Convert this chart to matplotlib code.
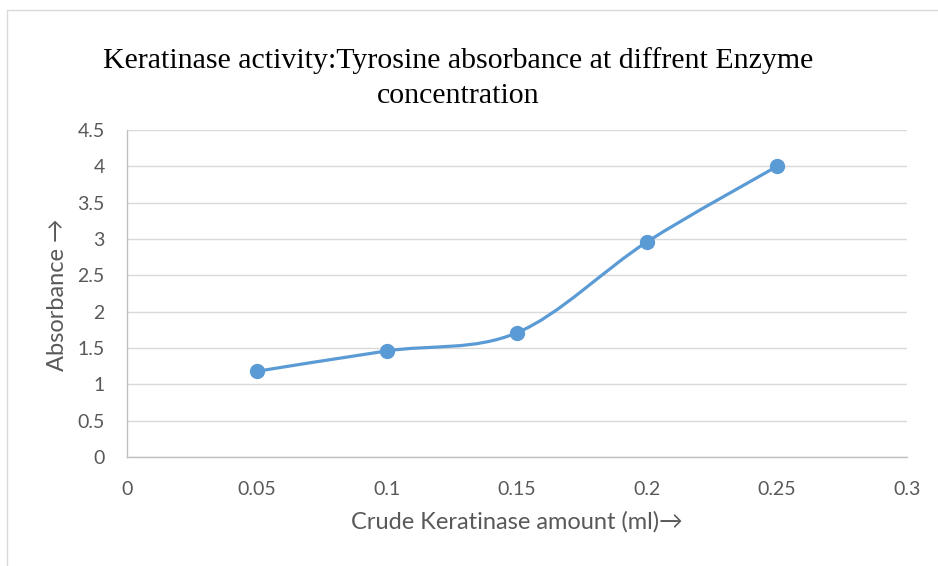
import matplotlib
matplotlib.use("Agg")
import matplotlib.pyplot as plt
import numpy as np
from matplotlib.path import Path
from matplotlib.patches import PathPatch, Rectangle

# data
enzyme_ml = [0.05, 0.10, 0.15, 0.20, 0.25]
absorbance = [1.18, 1.46, 1.71, 2.96, 4.00]
x_ticks = [0, 0.05, 0.1, 0.15, 0.2, 0.25, 0.3]
x_tick_labels = ["0", "0.05", "0.1", "0.15", "0.2", "0.25", "0.3"]
y_ticks = [0, 0.5, 1, 1.5, 2, 2.5, 3, 3.5, 4, 4.5]
y_tick_labels = ["0", "0.5", "1", "1.5", "2", "2.5", "3", "3.5", "4", "4.5"]

LINE = "#5B9BD5"
GRID = "#d9d9d9"
TXT = "#595959"
SANS = ["Lato", "DejaVu Sans"]


def smooth_path(xs, ys):
    """Excel-like smoothed line: cubic Bezier segments (Catmull-Rom)."""
    pts = np.column_stack([xs, ys]).astype(float)
    ext = np.vstack([pts[0], pts, pts[-1]])
    verts = [tuple(pts[0])]
    codes = [Path.MOVETO]
    for i in range(len(pts) - 1):
        p0, p1, p2, p3 = ext[i], ext[i + 1], ext[i + 2], ext[i + 3]
        c1 = p1 + (p2 - p0) / 6.0
        c2 = p2 - (p3 - p1) / 6.0
        verts += [tuple(c1), tuple(c2), tuple(p2)]
        codes += [Path.CURVE4] * 3
    return Path(verts, codes)


fig = plt.figure(figsize=(9.38, 5.66), dpi=100)
fig.patch.set_facecolor("white")
fig.patches.append(Rectangle((7 / 938, -0.01), 1.0, 1 - 10 / 566 + 0.01,
                             transform=fig.transFigure, fill=False,
                             edgecolor=GRID, linewidth=1.0))

ax = fig.add_axes([127 / 938, 109 / 566, 780 / 938, 327 / 566])
ax.set_xlim(0, 0.3)
ax.set_ylim(0, 4.5)

ax.add_patch(PathPatch(smooth_path(enzyme_ml, absorbance), facecolor="none",
                       edgecolor=LINE, linewidth=2.3, capstyle="round", zorder=3))
ax.plot(enzyme_ml, absorbance, linestyle="none", marker="o", markersize=10,
        color=LINE, zorder=4)

ax.set_xticks(x_ticks)
ax.set_xticklabels(x_tick_labels)
ax.set_yticks(y_ticks)
ax.set_yticklabels(y_tick_labels)
for lab in ax.get_xticklabels() + ax.get_yticklabels():
    lab.set_family(SANS)
ax.tick_params(axis="both", length=0, labelsize=14, labelcolor=TXT)
ax.tick_params(axis="x", pad=17)
ax.tick_params(axis="y", pad=16)

ax.grid(axis="y", color=GRID, linewidth=1.0)
ax.set_axisbelow(True)
for side in ["top", "right"]:
    ax.spines[side].set_visible(False)
for side in ["left", "bottom"]:
    ax.spines[side].set_color("#bfbfbf")
    ax.spines[side].set_linewidth(1.0)

fig.text(517 / 938, 1 - 522 / 566, "Crude Keratinase amount (ml)\u2192",
         ha="center", va="center", fontsize=17, color=TXT, family=SANS)
fig.text(57 / 938, 1 - 295 / 566, "Absorbance \u2192", rotation=90,
         ha="center", va="center", fontsize=17, color=TXT, family=SANS)
fig.text(458 / 938, 1 - 78 / 566,
         "Keratinase activity:Tyrosine absorbance at diffrent Enzyme\nconcentration",
         ha="center", va="center", multialignment="center", fontsize=21.5,
         color="black", family=["Liberation Serif", "DejaVu Serif"],
         linespacing=1.45)

fig.savefig("out.png", dpi=100)
